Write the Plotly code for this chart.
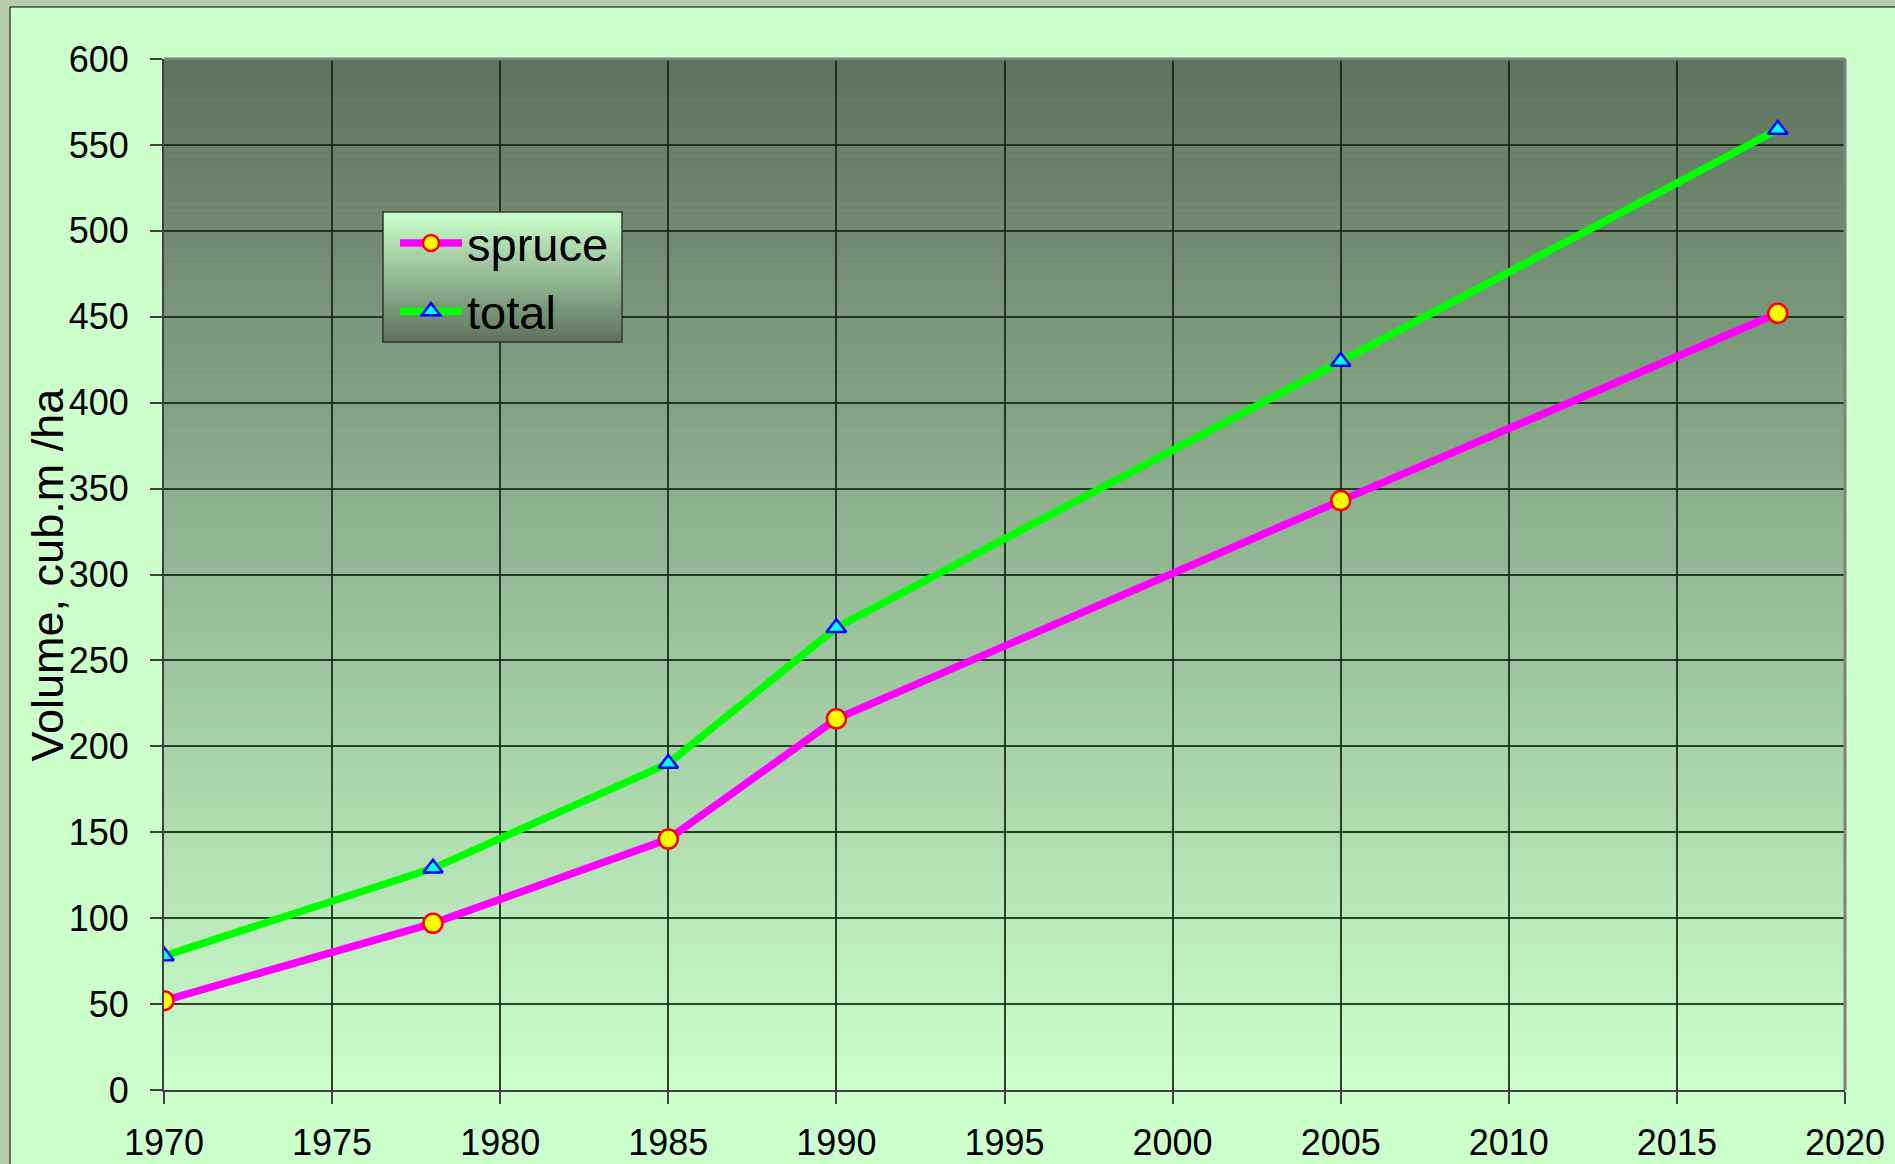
import plotly.graph_objects as go

years = [1970, 1978, 1985, 1990, 2005, 2018]
spruce = [52, 97, 146, 216, 343, 452]
total = [78, 129, 190, 269, 424, 559]

W, H = 1895, 1164
ML, MR, MT, MB = 164, 50, 59, 74
PW, PH = W - ML - MR, H - MT - MB

def px2x(x):
    return (x - ML) / PW

def px2y(y):
    return 1 - (y - MT) / PH

def lerp(c1, c2, t):
    return "rgb(%d,%d,%d)" % tuple(round(a + (b - a) * t) for a, b in zip(c1, c2))

DARK = (93, 116, 93)
LIGHT = (204, 255, 204)

shapes = []
# outer light panel
shapes.append(dict(type="rect", xref="paper", yref="paper",
                   x0=px2x(10), x1=px2x(W + 20), y0=px2y(H + 20), y1=px2y(7),
                   fillcolor="#CCFFCC", line=dict(color="black", width=1), layer="below"))
# plot area gradient
N = 150
for i in range(N):
    t = i / (N - 1)
    shapes.append(dict(type="rect", xref="paper", yref="paper",
                       x0=0, x1=1, y0=1 - (i + 1) / N - 0.0005, y1=1 - i / N,
                       fillcolor=lerp(DARK, LIGHT, t), line=dict(width=0), layer="below"))
# top/right gray border
shapes.append(dict(type="line", xref="paper", yref="paper", x0=0, x1=1, y0=1, y1=1,
                   line=dict(color="#808080", width=3), layer="above"))
shapes.append(dict(type="line", xref="paper", yref="paper", x0=1, x1=1, y0=0, y1=1,
                   line=dict(color="#808080", width=3), layer="above"))

# legend box gradient
LX0, LX1, LY0, LY1 = 383, 622, 212, 342
M = 60
for i in range(M):
    t = i / (M - 1)
    ya = LY0 + (LY1 - LY0) * i / M
    yb = LY0 + (LY1 - LY0) * (i + 1) / M + 0.6
    shapes.append(dict(type="rect", xref="paper", yref="paper",
                       x0=px2x(LX0), x1=px2x(LX1), y0=px2y(yb), y1=px2y(ya),
                       fillcolor=lerp(LIGHT, DARK, t), line=dict(width=0), layer="above"))
shapes.append(dict(type="rect", xref="paper", yref="paper",
                   x0=px2x(LX0), x1=px2x(LX1), y0=px2y(LY1), y1=px2y(LY0),
                   fillcolor="rgba(0,0,0,0)", line=dict(color="#333333", width=1.5), layer="above"))

fig = go.Figure()
fig.add_trace(go.Scatter(
    x=years, y=spruce, name="spruce", mode="lines+markers", legendgroup="a",
    line=dict(color="#FF00FF", width=7.5),
    marker=dict(symbol="circle", size=19, color="#FFFF00", line=dict(color="#FF0000", width=2.5)),
))
fig.add_trace(go.Scatter(
    x=years, y=total, name="total", mode="lines+markers", legendgroup="b",
    line=dict(color="#00FF00", width=7.5),
    marker=dict(symbol="triangle-up", size=17, color="#00FFFF", line=dict(color="#0000FF", width=2.5)),
))

FONT = "Liberation Sans, Arial, sans-serif"
fig.update_layout(
    width=W, height=H,
    margin=dict(l=ML, r=MR, t=MT, b=MB, autoexpand=False),
    paper_bgcolor="#B4CEAB",
    plot_bgcolor="rgba(0,0,0,0)",
    font=dict(family=FONT, color="black"),
    shapes=shapes,
    showlegend=True,
    legend=dict(x=px2x(LX0 + 12), y=px2y(LY0 - 6), xanchor="left", yanchor="top",
                bgcolor="rgba(0,0,0,0)", borderwidth=0,
                font=dict(size=47, family=FONT, color="black"),
                itemwidth=62, tracegroupgap=4),
    xaxis=dict(range=[1970, 2020], dtick=5, tick0=1970, automargin=False,
               showgrid=True, gridcolor="rgba(20,35,20,0.85)", gridwidth=1.5,
               showline=True, linecolor="#404040", linewidth=2,
               ticks="outside", ticklen=12, tickcolor="#404040", tickwidth=1.5,
               tickfont=dict(size=36, family=FONT, color="black"),
               ticklabelstandoff=8, zeroline=False),
    yaxis=dict(range=[0, 600], dtick=50, tick0=0, automargin=False,
               showgrid=True, gridcolor="rgba(20,35,20,0.85)", gridwidth=1.5,
               showline=True, linecolor="#404040", linewidth=2,
               ticks="outside", ticklen=12, tickcolor="#404040", tickwidth=1.5,
               tickfont=dict(size=36, family=FONT, color="black"),
               ticklabelstandoff=14, zeroline=False),
    annotations=[dict(text="Volume, cub.m /ha", xref="paper", yref="paper",
                      x=px2x(47), y=0.5, xanchor="center", yanchor="middle",
                      textangle=-90, showarrow=False,
                      font=dict(size=45, family=FONT, color="black"))],
)

fig.write_html("out.html", config={"displayModeBar": False},
               post_script="document.body.style.margin='0';document.body.style.overflow='hidden';")
